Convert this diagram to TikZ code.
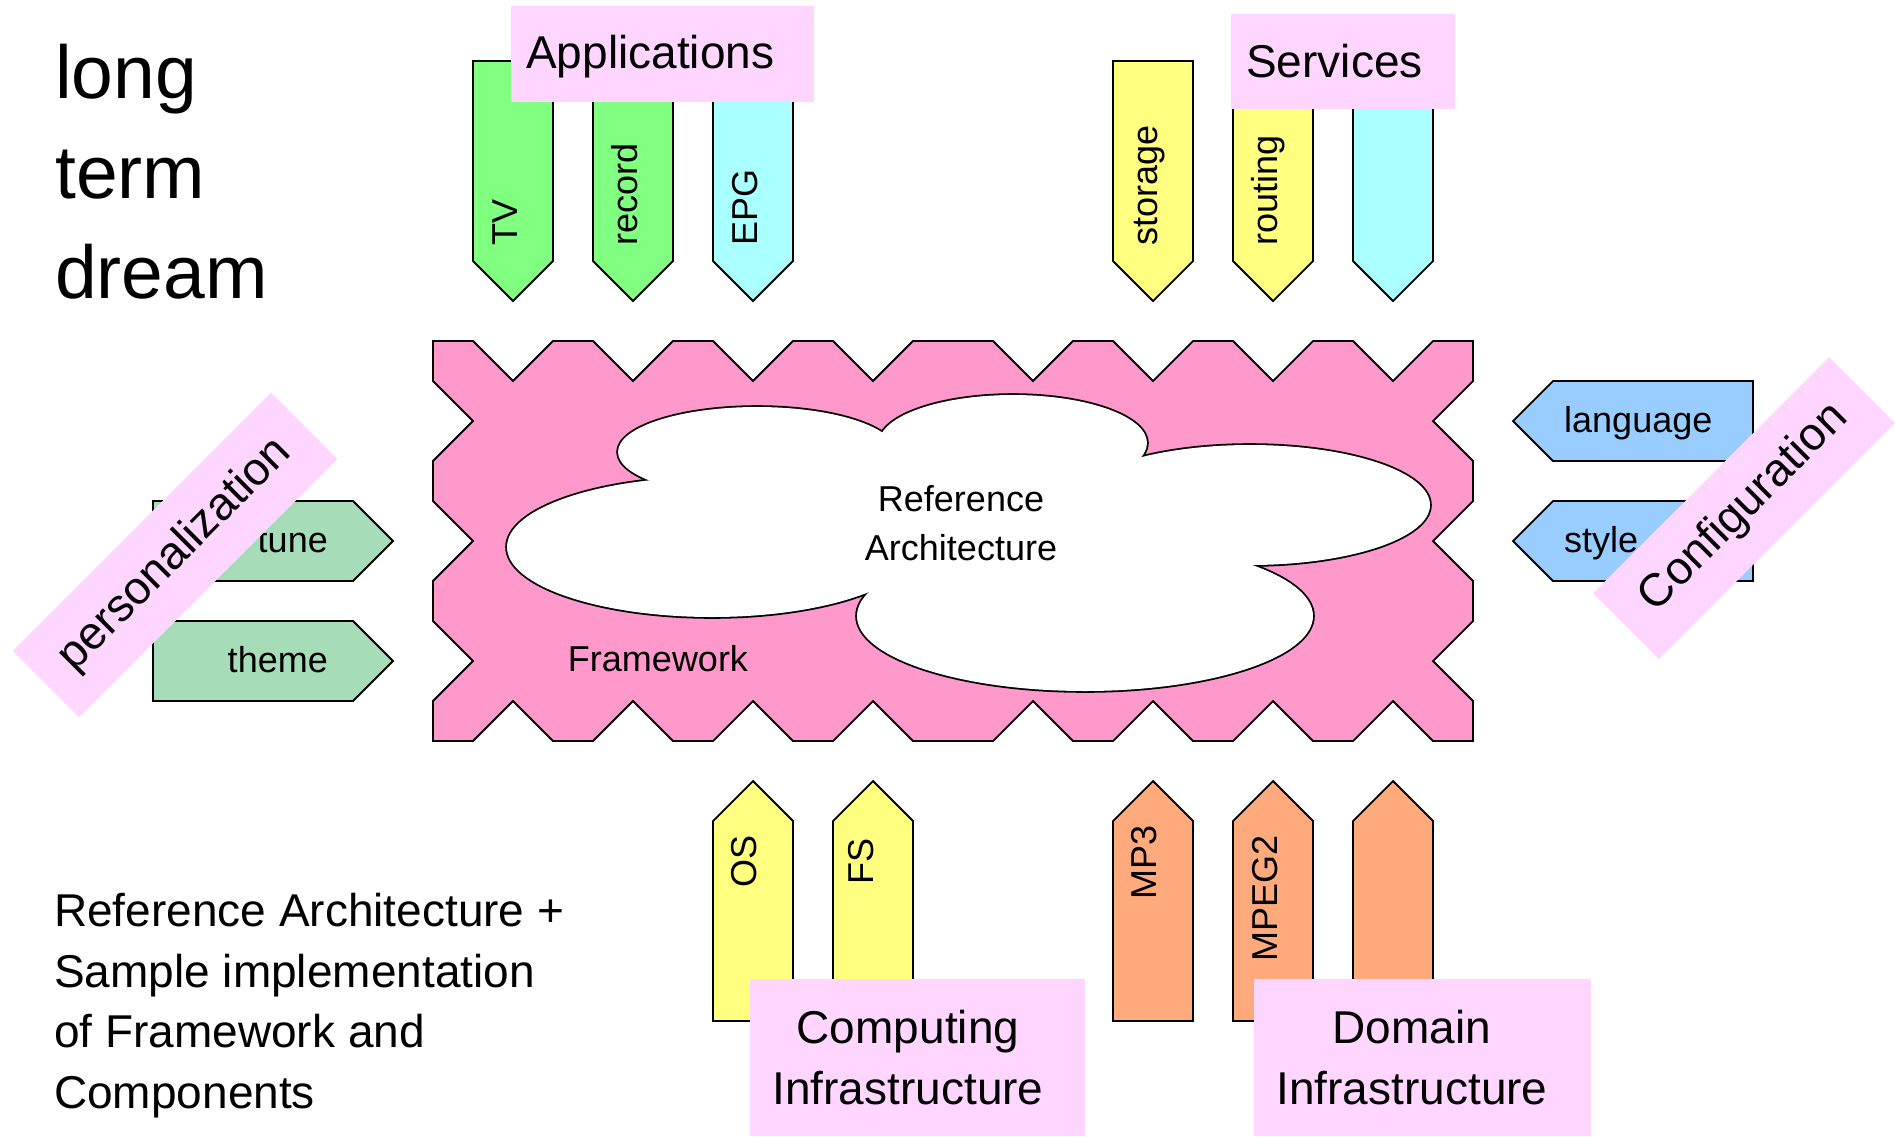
\documentclass[tikz,border=0pt]{standalone}
\usepackage{fontspec}
\setmainfont{Liberation Sans}
\definecolor{framepink}{RGB}{255,153,204}
\definecolor{tagpink}{RGB}{255,214,255}
\definecolor{appgreen}{RGB}{128,255,128}
\definecolor{appcyan}{RGB}{170,255,255}
\definecolor{infyellow}{RGB}{255,255,128}
\definecolor{domorange}{RGB}{255,170,125}
\definecolor{persgreen}{RGB}{166,220,183}
\definecolor{confblue}{RGB}{153,204,255}
\newcommand{\midsize}{\fontsize{36}{48.3}\selectfont}
\newcommand{\bigsize}{\fontsize{46}{60.5}\selectfont}
\newcommand{\hugesize}{\fontsize{75}{100}\selectfont}
\tikzset{
  part/.style={draw=black, line width=1.8pt},
  tag/.style={fill=tagpink, inner sep=0pt},
  lbl/.style={inner sep=0pt, font=\midsize},
}
\begin{document}
\begin{tikzpicture}[x=1pt, y=-1pt]
\useasboundingbox (0,0) rectangle (1895,1136);
% multi-line texts sit on their last baseline
\node[inner sep=0pt, anchor=base west, align=left, font=\hugesize] (dream) at (55,298) {long\\term\\dream};
\node[inner sep=0pt, anchor=base west, align=left, font=\bigsize] (sample) at (54,1108) {Reference Architecture +\\Sample implementation\\of Framework and\\Components};
% framework and the plugged parts, grid of 40
\begin{scope}[shift={(433,341)}, x=40pt, y=-40pt]
  \filldraw[part, fill=framepink] (0,0)
    \foreach \n in {2,5,8,11,15,18,21,24} { -- (\n-1,0) -- (\n,1) -- (\n+1,0) } -- (26,0)
    \foreach \m in {2,5,8} { -- (26,\m-1) -- (25,\m) -- (26,\m+1) } -- (26,10)
    \foreach \n in {24,21,18,15,11,8,5,2} { -- (\n+1,10) -- (\n,9) -- (\n-1,10) } -- (0,10)
    \foreach \m in {8,5,2} { -- (0,\m+1) -- (1,\m) -- (0,\m-1) } -- cycle;
  \foreach \n/\c in {2/appgreen, 5/appgreen, 8/appcyan, 18/infyellow, 21/infyellow, 24/appcyan}
    \filldraw[part, fill=\c] (\n-1,-7) -- (\n+1,-7) -- (\n+1,-2) -- (\n,-1) -- (\n-1,-2) -- cycle;
  \foreach \n/\c in {8/infyellow, 11/infyellow, 18/domorange, 21/domorange, 24/domorange}
    \filldraw[part, fill=\c] (\n-1,17) -- (\n+1,17) -- (\n+1,12) -- (\n,11) -- (\n-1,12) -- cycle;
  \foreach \m in {5,8}
    \filldraw[part, fill=persgreen] (-7,\m-1) -- (-2,\m-1) -- (-1,\m) -- (-2,\m+1) -- (-7,\m+1) -- cycle;
  \foreach \m in {2,5}
    \filldraw[part, fill=confblue] (33,\m-1) -- (28,\m-1) -- (27,\m) -- (28,\m+1) -- (33,\m+1) -- cycle;
\end{scope}
% cloud
\foreach \cx/\cy/\rx/\ry in {712/547/205/70, 757/452/139/45, 1013/443/134/48, 1250/505/180/60, 1085/616/228/75}
  \draw[line width=3.6pt] (\cx,\cy) ellipse [x radius=\rx, y radius=\ry];
\foreach \cx/\cy/\rx/\ry in {712/547/205/70, 757/452/139/45, 1013/443/134/48, 1250/505/180/60, 1085/616/228/75}
  \fill[white] (\cx,\cy) ellipse [x radius=\rx, y radius=\ry];
\fill[white] (668,488) -- (887,444) -- (1128,466) -- (1238,559) -- (886,576) -- cycle;
\node[lbl, anchor=base, align=center] (refarch) at (961,560) {Reference\\Architecture};
\node[lbl, anchor=base] (framework) at (658,671) {Framework};
% labels on the parts
\foreach \n/\t in {2/TV, 5/record, 8/EPG, 18/storage, 21/routing}
  \node[lbl, rotate=90, anchor=base west] (top-\t) at (433+40*\n+4,246) {\t};
\node[lbl, rotate=90, anchor=base] (os) at (756,861) {OS};
\node[lbl, rotate=90, anchor=base] (fs) at (873,861) {FS};
\node[lbl, rotate=90, anchor=base] (mp3) at (1156,862) {MP3};
\node[lbl, rotate=90, anchor=base] (mpeg2) at (1277,898) {MPEG2};
\node[lbl, anchor=base east] (tune) at (328,552) {tune};
\node[lbl, anchor=base east] (theme) at (328,672) {theme};
\node[lbl, anchor=base west] (language) at (1564,432) {language};
\node[lbl, anchor=base west] (style) at (1564,552) {style};
% group tags
\fill[tagpink] (511,6) rectangle (814,102);
\node[inner sep=0pt, anchor=base west, font=\bigsize] (applications) at (526,68) {Applications};
\fill[tagpink] (1231,14) rectangle (1455,109);
\node[inner sep=0pt, anchor=base west, font=\bigsize] (services) at (1246,77) {Services};
\fill[tagpink] (750,979) rectangle (1085,1136);
\node[inner sep=0pt, anchor=base, align=center, font=\bigsize] (computing) at (908,1104) {Computing\\Infrastructure};
\fill[tagpink] (1254,979) rectangle (1591,1136);
\node[inner sep=0pt, anchor=base, align=center, font=\bigsize] (domain) at (1412,1104) {Domain\\Infrastructure};
\node[tag, rotate=45, minimum width=365pt, minimum height=94pt, font=\bigsize] (personalization) at (175,555) {personalization};
\node[tag, rotate=45, minimum width=334pt, minimum height=93pt, font=\bigsize] (configuration) at (1744,508) {Configuration};
\end{tikzpicture}
\end{document}
